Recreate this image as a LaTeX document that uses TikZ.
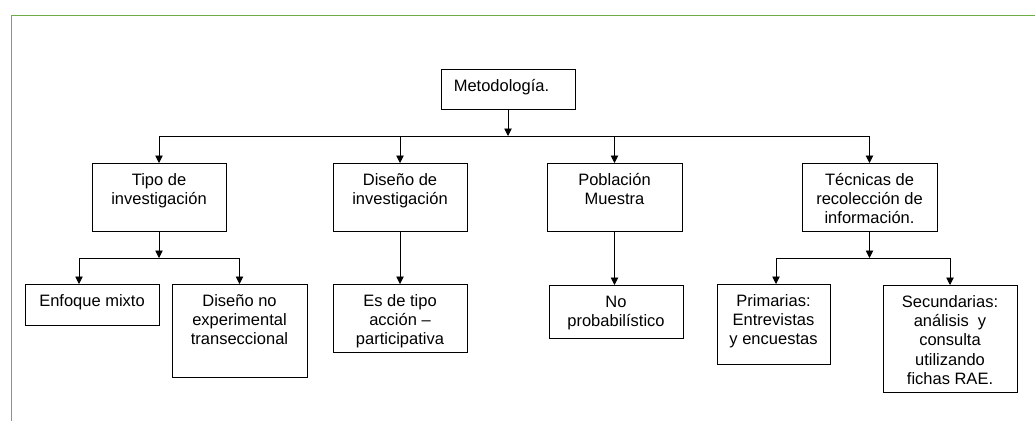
\documentclass[tikz,border=0pt]{standalone}
\usepackage{fontspec}
\setmainfont{Liberation Sans}
\usetikzlibrary{arrows.meta}
\definecolor{framegreen}{RGB}{112,173,71}
\begin{document}
\begin{tikzpicture}[x=1pt,y=-1pt,
  box/.style={draw=black, line width=0.9pt, inner sep=0pt, outer sep=0pt, anchor=north west},
  txt/.style={font=\fontsize{16.5}{19.3}\selectfont, align=center, inner sep=0pt, anchor=north},
  arr/.style={line width=0.9pt, -{Triangle[width=7.5pt,length=7.5pt]}},
  ln/.style={line width=0.9pt}]
\useasboundingbox (0,0) rectangle (1035,421);
\draw[framegreen, line width=1pt] (1035,15) -- (11,15) -- (11,421);

% boxes
\node[box, minimum width=134pt, minimum height=40pt] (met) at (441,69) {};
\node[box, minimum width=134pt, minimum height=68pt] (tipo) at (92,163) {};
\node[box, minimum width=134pt, minimum height=68pt] (dis) at (333,163) {};
\node[box, minimum width=135pt, minimum height=68pt] (pob) at (547,163) {};
\node[box, minimum width=135pt, minimum height=68pt] (tec) at (802,163) {};
\node[box, minimum width=134pt, minimum height=41pt] (enf) at (25,284) {};
\node[box, minimum width=135pt, minimum height=93pt] (dne) at (172,284) {};
\node[box, minimum width=134pt, minimum height=68pt] (es) at (333,284) {};
\node[box, minimum width=134pt, minimum height=53pt] (nop) at (549,285) {};
\node[box, minimum width=113pt, minimum height=80pt] (pri) at (717,284) {};
\node[box, minimum width=134pt, minimum height=107pt] (sec) at (883,285) {};

% texts
\node[txt] (met-t) at ([xshift=-6.5pt,yshift=-8.5pt]met.north) {\strut Metodología.};
\node[txt] (tipo-t) at ([yshift=-8.5pt]tipo.north) {\strut Tipo de\\investigación};
\node[txt] (dis-t) at ([yshift=-8.5pt]dis.north) {\strut Diseño de\\investigación};
\node[txt] (pob-t) at ([yshift=-8.5pt]pob.north) {\strut Población\\Muestra};
\node[txt] (tec-t) at ([yshift=-8.5pt]tec.north) {\strut Técnicas de\\recolección de\\información.};
\node[txt] (enf-t) at ([yshift=-8.5pt]enf.north) {\strut Enfoque mixto};
\node[txt] (dne-t) at ([yshift=-8.5pt]dne.north) {\strut Diseño no\\experimental\\transeccional};
\node[txt] (es-t) at ([yshift=-8.5pt]es.north) {\strut Es de tipo\\acción –\\participativa};
\node[txt] (nop-t) at ([yshift=-8.5pt]nop.north) {\strut No\\probabilístico};
\node[txt] (pri-t) at ([yshift=-8.5pt]pri.north) {\strut Primarias:\\Entrevistas\\y encuestas};
\node[txt] (sec-t) at ([yshift=-8.5pt]sec.north) {\strut Secundarias:\\análisis~~y\\consulta\\utilizando\\fichas RAE.};

% level 1 -> 2
\coordinate (bus1) at (508,136);
\draw[arr] (met.south) -- (met.south |- bus1);
\draw[ln] (tipo.north |- bus1) -- (tec.north |- bus1);
\foreach \n in {tipo,dis,pob,tec} \draw[arr] (\n.north |- bus1) -- (\n.north);

% level 2 -> 3
\coordinate (bus2) at (0,258);
\coordinate (enfin) at ([xshift=-13pt]enf.north);
\draw[arr] (tipo.south) -- (tipo.south |- bus2);
\draw[ln] (enfin |- bus2) -- (dne.north |- bus2);
\draw[arr] (enfin |- bus2) -- (enfin);
\draw[arr] (dne.north |- bus2) -- (dne.north);

\draw[arr] (dis.south) -- (es.north);
\draw[arr] (pob.south) -- (pob.south |- nop.north);

\coordinate (priin) at ([xshift=2.5pt]pri.north);
\draw[arr] (tec.south) -- (tec.south |- bus2);
\draw[ln] (priin |- bus2) -- (sec.north |- bus2);
\draw[arr] (priin |- bus2) -- (priin);
\draw[arr] (sec.north |- bus2) -- (sec.north);
\end{tikzpicture}
\end{document}
